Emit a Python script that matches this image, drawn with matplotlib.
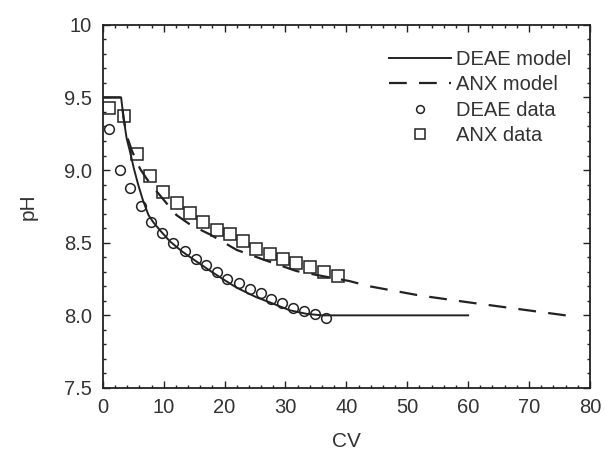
import matplotlib.pyplot as plt
from matplotlib.ticker import MultipleLocator

plt.rcParams['font.family'] = ['Liberation Sans', 'DejaVu Sans']

# DEAE model (solid line)
deae_model_cv = [0, 3.0, 3.4, 3.9, 4.5, 5.1, 5.8, 6.6, 7.5, 8.3, 9.5, 11.0, 13.0,
                 15.4, 17.5, 19.7, 22.0, 25.2, 28.0, 30.7, 33.5, 36.0, 60.0]
deae_model_ph = [9.5, 9.5, 9.36, 9.22, 9.12, 9.01, 8.90, 8.79, 8.69, 8.64, 8.58, 8.51, 8.44,
                 8.37, 8.31, 8.25, 8.19, 8.125, 8.08, 8.035, 8.01, 8.0, 8.0]

# ANX model (dashed line)
anx_model_cv = [0, 3.0, 3.4, 3.9, 4.8, 6.1, 7.2, 8.3, 9.7, 12.1, 14.5, 17.6, 22.0,
                26.3, 31.8, 36.1, 40.5, 43.8, 52.0, 60.0, 68.0, 76.0, 78.0]
anx_model_ph = [9.5, 9.5, 9.36, 9.24, 9.13, 9.01, 8.94, 8.88, 8.81, 8.69, 8.62, 8.557, 8.45,
                8.385, 8.305, 8.27, 8.236, 8.20, 8.137, 8.09, 8.045, 8.0, 7.99]

# DEAE data (circles)
deae_cv = [1.0, 2.85, 4.5, 6.2, 7.9, 9.7, 11.5, 13.5, 15.3, 17.0, 18.7, 20.4,
           22.3, 24.2, 26.0, 27.7, 29.5, 31.2, 33.0, 34.9, 36.6]
deae_ph = [9.28, 9.0, 8.875, 8.75, 8.645, 8.57, 8.50, 8.44, 8.39, 8.35, 8.30, 8.25,
           8.22, 8.18, 8.155, 8.11, 8.085, 8.05, 8.03, 8.01, 7.98]

# ANX data (squares)
anx_cv = [1.0, 3.4, 5.6, 7.75, 9.9, 12.2, 14.3, 16.5, 18.7, 20.9, 23.0, 25.2,
          27.4, 29.6, 31.8, 34.0, 36.4, 38.6]
anx_ph = [9.43, 9.37, 9.11, 8.96, 8.85, 8.77, 8.706, 8.64, 8.59, 8.557, 8.51, 8.46,
          8.42, 8.39, 8.357, 8.33, 8.30, 8.27]

fig = plt.figure(figsize=(6.05, 4.54), dpi=100)
ax = fig.add_axes([0.170, 0.1454, 0.805, 0.80])

ink = '#222222'
ax.plot(deae_model_cv, deae_model_ph, color=ink, lw=1.4, label='DEAE model')
ax.plot(anx_model_cv, anx_model_ph, color=ink, lw=1.6, linestyle=(0, (8, 5.5)),
        label='ANX model')
ax.plot(deae_cv, deae_ph, linestyle='none', marker='o', ms=7, mfc='none',
        mec=ink, mew=1.1, label='DEAE data')
ax.plot(anx_cv, anx_ph, linestyle='none', marker='s', ms=8.5, mfc='none',
        mec=ink, mew=1.1, label='ANX data')

ax.set_xlim(0, 80)
ax.set_ylim(7.5, 10)
ax.xaxis.set_major_locator(MultipleLocator(10))
ax.xaxis.set_minor_locator(MultipleLocator(2))
ax.yaxis.set_major_locator(MultipleLocator(0.5))
ax.yaxis.set_minor_locator(MultipleLocator(0.1))
ax.set_yticks([7.5, 8.0, 8.5, 9.0, 9.5, 10])
ax.set_yticklabels(['7.5', '8.0', '8.5', '9.0', '9.5', '10'])

ax.tick_params(which='both', direction='in', top=True, right=True, colors=ink,
               labelcolor='#333333', labelsize=14.5, width=1.0)
ax.tick_params(which='major', length=5)
ax.tick_params(axis='y', which='major', pad=8)
ax.tick_params(axis='x', which='major', pad=7)
ax.tick_params(which='minor', length=2.5)
for sp in ax.spines.values():
    sp.set_linewidth(1.3)
    sp.set_color(ink)

ax.set_xlabel('CV', fontsize=15, color='#333333', labelpad=11)
ax.set_ylabel('pH', fontsize=15, color='#333333', labelpad=19)

ax.legend(loc='upper left', bbox_to_anchor=(0.566, 0.958), frameon=False,
          fontsize=14.5, handlelength=3.1, handletextpad=0.25, labelspacing=0.31,
          borderpad=0, markerscale=0.8, labelcolor='#333333')

fig.savefig('out.png', dpi=100)
